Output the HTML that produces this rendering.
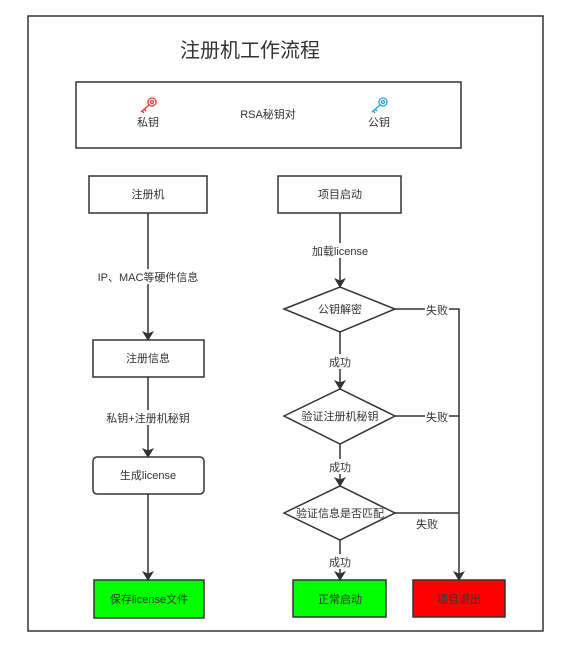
<!DOCTYPE html>
<html><head><meta charset="utf-8"><style>
html,body{margin:0;padding:0;background:#fff;}
svg{display:block;}
text{font-family:"Liberation Sans","Noto Sans CJK SC",sans-serif;font-size:11px;fill:#333;}
</style></head><body>
<svg width="575" height="664" viewBox="0 0 575 664" xmlns="http://www.w3.org/2000/svg">
<defs>
<marker id="a" markerWidth="10" markerHeight="12" refX="9" refY="6" orient="auto" markerUnits="userSpaceOnUse">
<path d="M0,0 L10,6 L0,12 L2.5,6 Z" fill="#333"/></marker>
</defs>
<rect x="28" y="16" width="515" height="615" fill="#fff" stroke="#333" stroke-width="1.5"/>
<text x="250" y="57" text-anchor="middle" style="font-size:20px">注册机工作流程</text>
<rect x="76" y="82" width="385" height="66" fill="#fff" stroke="#333" stroke-width="1.5"/>
<g stroke="#e53935" stroke-width="1.3" fill="none"><circle cx="152" cy="102" r="4"/><circle cx="152" cy="102" r="1.5"/><path d="M149,105 L141,112 M144,109 L146,111 M142,111 L144,113"/></g>
<g stroke="#29a3e0" stroke-width="1.3" fill="none"><circle cx="383" cy="102" r="4"/><circle cx="383" cy="102" r="1.5"/><path d="M380,105 L372,112 M375,109 L377,111 M373,111 L375,113"/></g>
<text x="148" y="126" text-anchor="middle">私钥</text>
<text x="268" y="118" text-anchor="middle">RSA秘钥对</text>
<text x="379" y="126" text-anchor="middle">公钥</text>
<g stroke="#333" stroke-width="1.5" fill="none">
<rect x="89" y="176" width="118" height="37" fill="#fff"/>
<rect x="93" y="340" width="111" height="37" fill="#fff"/>
<rect x="93" y="457" width="111" height="37" rx="4" fill="#fff"/>
<rect x="94" y="580" width="110" height="38" fill="#00ff00"/>
<rect x="278" y="176" width="123" height="37" fill="#fff"/>
<path d="M284,309 L340,287 L395,309 L340,332 Z" fill="#fff"/>
<path d="M284,416 L340,389 L395,416 L340,444 Z" fill="#fff"/>
<path d="M284,513 L340,486 L395,513 L340,540 Z" fill="#fff"/>
<rect x="293" y="580" width="93" height="37" fill="#00ff00"/>
<rect x="413" y="580" width="92" height="37" fill="#ff0000"/>
<path d="M148,213 V340" marker-end="url(#a)"/>
<path d="M148,377 V457" marker-end="url(#a)"/>
<path d="M148,494 V580" marker-end="url(#a)"/>
<path d="M340,213 V287" marker-end="url(#a)"/>
<path d="M340,332 V389" marker-end="url(#a)"/>
<path d="M340,444 V486" marker-end="url(#a)"/>
<path d="M340,540 V580" marker-end="url(#a)"/>
<path d="M395,309 H459 V580" marker-end="url(#a)"/>
<path d="M395,416 H459"/>
<path d="M395,513 H459"/>
</g>
<g>
<rect x="94" y="269" width="110" height="15" fill="#fff"/>
<text x="148" y="281" text-anchor="middle">IP、MAC等硬件信息</text>
<rect x="100" y="410" width="96" height="15" fill="#fff"/>
<text x="148" y="422" text-anchor="middle">私钥+注册机秘钥</text>
<rect x="308" y="243" width="64" height="15" fill="#fff"/>
<text x="340" y="255" text-anchor="middle">加载license</text>
<rect x="328" y="354" width="24" height="15" fill="#fff"/><text x="340" y="366" text-anchor="middle">成功</text>
<rect x="328" y="459" width="24" height="15" fill="#fff"/><text x="340" y="471" text-anchor="middle">成功</text>
<rect x="328" y="554" width="24" height="15" fill="#fff"/><text x="340" y="566" text-anchor="middle">成功</text>
<rect x="425" y="302" width="24" height="15" fill="#fff"/><text x="437" y="314" text-anchor="middle">失败</text>
<rect x="425" y="409" width="24" height="15" fill="#fff"/><text x="437" y="421" text-anchor="middle">失败</text>
<text x="427" y="528" text-anchor="middle">失败</text>
<text x="148" y="198" text-anchor="middle">注册机</text>
<text x="148" y="362" text-anchor="middle">注册信息</text>
<text x="148" y="479" text-anchor="middle">生成license</text>
<text x="149" y="603" text-anchor="middle">保存license文件</text>
<text x="340" y="198" text-anchor="middle">项目启动</text>
<text x="340" y="313" text-anchor="middle">公钥解密</text>
<text x="340" y="420" text-anchor="middle">验证注册机秘钥</text>
<text x="340" y="517" text-anchor="middle">验证信息是否匹配</text>
<text x="340" y="603" text-anchor="middle">正常启动</text>
<text x="459" y="603" text-anchor="middle">项目退出</text>
</g>
</svg>
</body></html>
